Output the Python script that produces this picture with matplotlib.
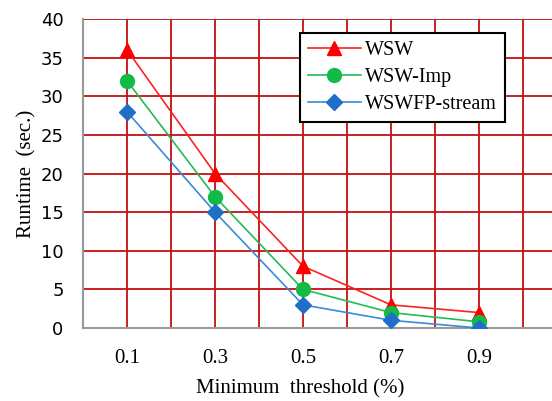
import matplotlib
matplotlib.use('Agg')
import matplotlib.pyplot as plt

# valores
thresholds = ['0.1', '0.3', '0.5', '0.7', '0.9']
wsw = [36, 20, 8, 3, 2]
wsw_imp = [32, 17, 5, 2, 0.8]
wswfp = [28, 15, 3, 1, 0]
y_ticks = [0, 5, 10, 15, 20, 25, 30, 35, 40]

fig = plt.figure(figsize=(5.52, 4.01), dpi=100)
ax = fig.add_axes([0.1504, 0.182, 0.8496, 0.7706])

x = list(range(len(thresholds)))
ax.plot(x, wsw, color='#ff2020', marker='^', markersize=10, lw=1.2,
        markerfacecolor='#ff0000', markeredgecolor='#ff0000', label='WSW', zorder=5)
ax.plot(x, wsw_imp, color='#22bb55', marker='o', markersize=10, lw=1.2,
        markerfacecolor='#11bb44', markeredgecolor='#11bb44', label='WSW-Imp', zorder=5)
ax.plot(x, wswfp, color='#3a8ad6', marker='D', markersize=8, lw=1.2,
        markerfacecolor='#1f6fc8', markeredgecolor='#1f6fc8', label='WSWFP-stream', zorder=5)

ax.set_xlim(-0.5, 4.83)
ax.set_ylim(0, 40)
ax.set_xticks(x)
ax.set_xticklabels(thresholds, family='Liberation Serif', fontsize=15)
ax.set_xticks([i + 0.5 for i in range(-1, 5)], minor=True)
ax.set_yticks(y_ticks)
ax.tick_params(axis='y', labelsize=13, length=0, pad=14)
ax.tick_params(axis='x', length=0, pad=15)
ax.tick_params(which='minor', length=0)

ax.grid(True, which='both', color='#c41010', lw=1.3)
ax.set_axisbelow(True)
for s in ['top', 'right']:
    ax.spines[s].set_visible(False)
for s in ['left', 'bottom']:
    ax.spines[s].set_color('#999999')
    ax.spines[s].set_linewidth(1.5)

ax.set_ylabel('Runtime  (sec.)', family='Liberation Serif', fontsize=15)
ax.yaxis.set_label_coords(-0.1, 0.5)
ax.set_xlabel('Minimum  threshold (%)', family='Liberation Serif', fontsize=15)
ax.xaxis.set_label_coords(0.463, -0.165)

leg = ax.legend(loc='upper left', bbox_to_anchor=(0.463, 0.955), borderaxespad=0,
                prop={'family': 'Liberation Serif', 'size': 14.5},
                fancybox=False, edgecolor='black', framealpha=1,
                handlelength=2.6, borderpad=0.4, labelspacing=0.38, handletextpad=0.2)
leg.get_frame().set_linewidth(1.5)

fig.savefig('out.png', dpi=100)
